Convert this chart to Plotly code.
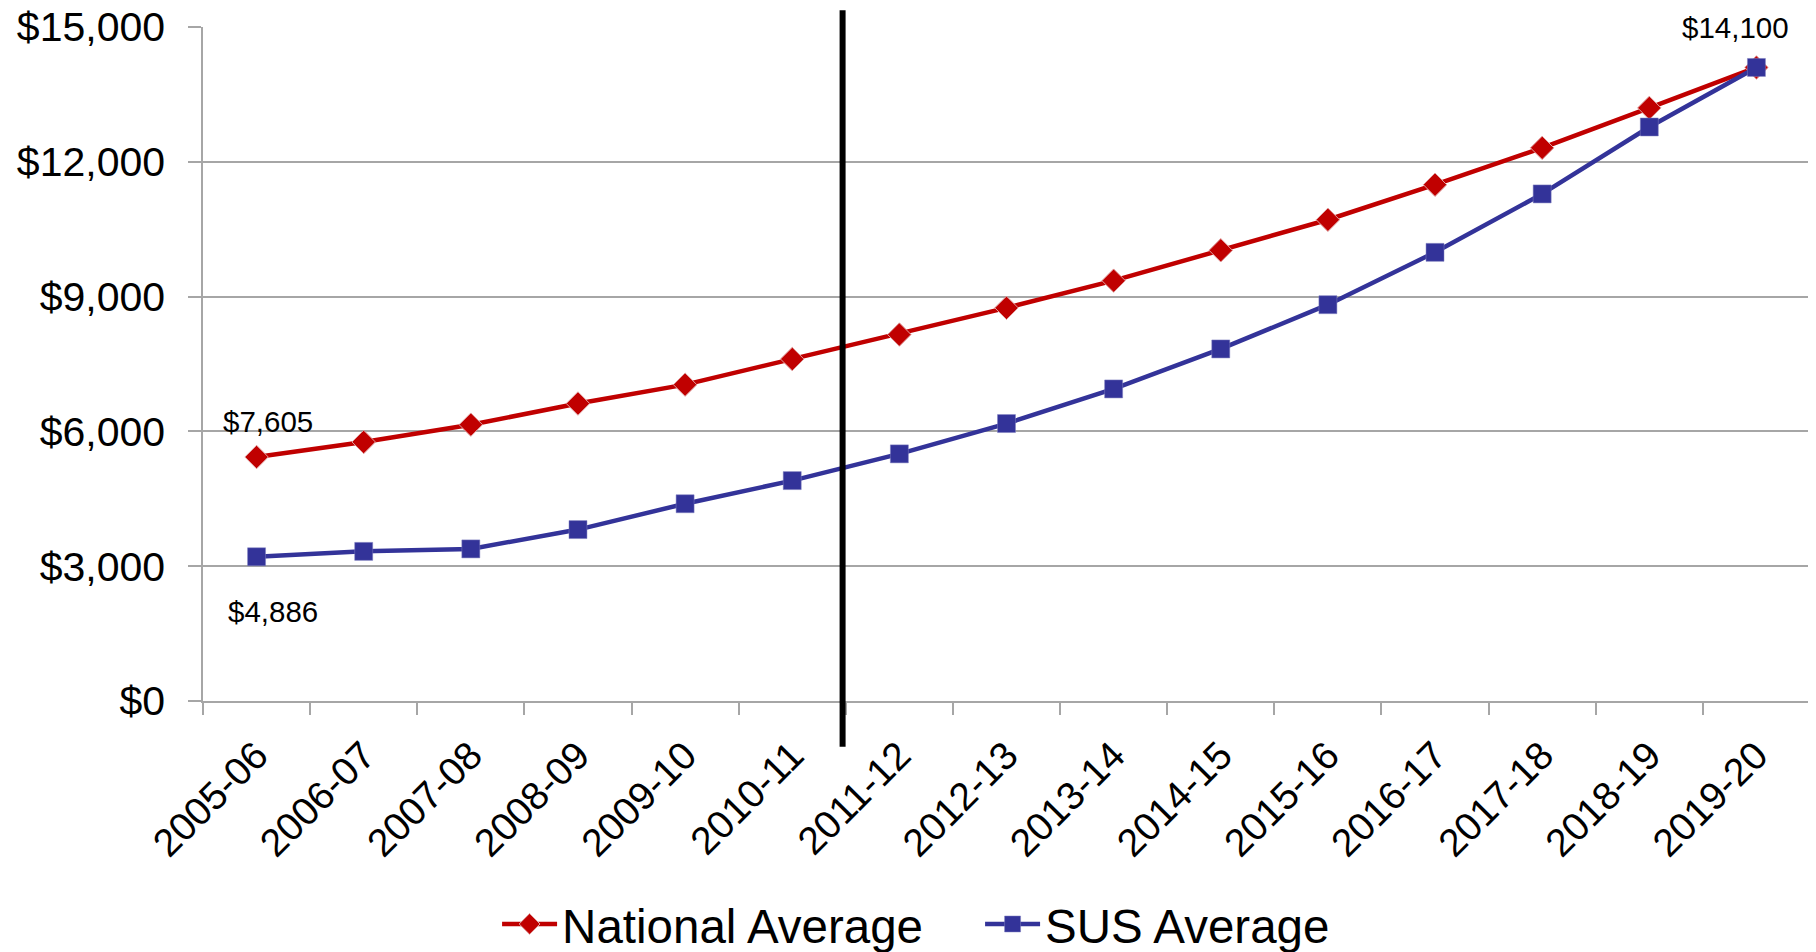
import plotly.graph_objects as go

years = ["2005-06", "2006-07", "2007-08", "2008-09", "2009-10", "2010-11", "2011-12",
         "2012-13", "2013-14", "2014-15", "2015-16", "2016-17", "2017-18", "2018-19", "2019-20"]
national = [5430, 5765, 6150, 6620, 7040, 7610, 8155, 8750, 9355, 10030, 10710, 11490, 12310, 13200, 14100]
sus = [3210, 3330, 3385, 3815, 4390, 4905, 5500, 6175, 6945, 7835, 8820, 9985, 11285, 12775, 14100]
y_ticks = [0, 3000, 6000, 9000, 12000, 15000]
y_labels = ["$0", "$3,000", "$6,000", "$9,000", "$12,000", "$15,000"]

FONT = "Arial, Liberation Sans, sans-serif"
RED = "#C00000"
BLUE = "#333399"
GRID = "#A6A6A6"

fig = go.Figure()
fig.add_trace(go.Scatter(
    x=years, y=national, name="National Average", mode="lines+markers",
    line=dict(color=RED, width=4.5),
    marker=dict(symbol="diamond", size=18, color=RED, line=dict(color="#E0A0A0", width=1)),
))
fig.add_trace(go.Scatter(
    x=years, y=sus, name="SUS Average", mode="lines+markers",
    line=dict(color=BLUE, width=4.5),
    marker=dict(symbol="square", size=18, color=BLUE, line=dict(color="#8080C0", width=0.5)),
))

# divider line between 2010-11 and 2011-12
fig.add_shape(type="line", xref="x", yref="paper", x0=5.47, x1=5.47, y0=-0.068, y1=1.025,
              line=dict(color="black", width=6))

ann_font = dict(family=FONT, size=29.5, color="black")
fig.add_annotation(x=0.107, y=6226, xref="x", yref="y", text="$7,605", showarrow=False, font=ann_font)
fig.add_annotation(x=0.154, y=1998, xref="x", yref="y", text="$4,886", showarrow=False, font=ann_font)
fig.add_annotation(x=13.8, y=14985, xref="x", yref="y", text="$14,100", showarrow=False, font=ann_font)

# The page body has an 8px default margin, so the figure is sized/offset to compensate.
fig.update_layout(
    width=1808, height=944,
    margin=dict(l=195, r=6, t=19, b=250.5, autoexpand=False),
    paper_bgcolor="white", plot_bgcolor="white",
    font=dict(family=FONT, color="black"),
    showlegend=True,
    legend=dict(orientation="h", x=0.183, xanchor="left", y=-0.331, yanchor="middle",
                font=dict(family=FONT, size=47.5, color="black"),
                itemwidth=55, entrywidth=413, tracegroupgap=0, bgcolor="rgba(0,0,0,0)"),
    xaxis=dict(
        type="category", tickangle=-45, tickfont=dict(family=FONT, size=39, color="black"),
        showgrid=False, showline=True, linecolor=GRID, linewidth=1.5,
        ticks="outside", ticklen=12, tickcolor=GRID, tickwidth=1.5, tickson="boundaries",
        ticklabelstandoff=14, range=[-0.5, 14.5], automargin=False, ticklabeloverflow="allow",
    ),
    yaxis=dict(
        range=[0, 15000], tickvals=y_ticks, ticktext=y_labels,
        tickfont=dict(family=FONT, size=41, color="black"),
        showgrid=True, gridcolor=GRID, gridwidth=1.5,
        showline=True, linecolor=GRID, linewidth=1.5,
        ticks="outside", ticklen=13, tickcolor=GRID, tickwidth=1.5,
        ticklabelstandoff=15, zeroline=False, automargin=False, ticklabeloverflow="allow",
    ),
)

fig.write_html("out.html")
